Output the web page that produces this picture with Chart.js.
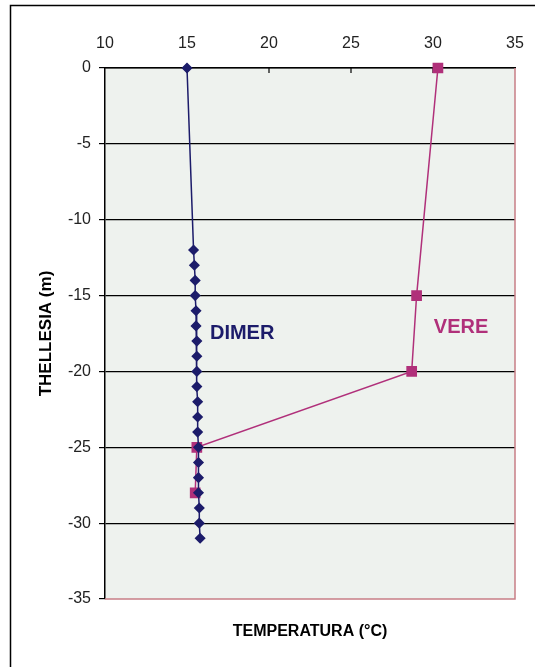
<!DOCTYPE html>
<html>
<head>
<meta charset="utf-8">
<script src="https://cdn.jsdelivr.net/npm/chart.js@4"></script>
<style>
  html, body { margin: 0; padding: 0; background: #fff; }
  #wrap { width: 535px; height: 667px; position: relative; }
</style>
</head>
<body>
<div id="wrap"><canvas id="chart"></canvas></div>
<script>
// thellesia (m) per cdo seri
const dimerDepth = [0, -12, -13, -14, -15, -16, -17, -18, -19, -20, -21, -22, -23, -24, -25, -26, -27, -28, -29, -30, -31]
const dimerTemp = [15.0, 15.4, 15.45, 15.5, 15.5, 15.55, 15.55, 15.6, 15.6, 15.6, 15.6, 15.65, 15.65, 15.65, 15.7, 15.7, 15.7, 15.7, 15.75, 15.75, 15.8]
const vereDepth = [0, -15, -20, -25, -28]
const vereTemp = [30.3, 29.0, 28.7, 15.6, 15.5]
const xTicks = [10, 15, 20, 25, 30, 35]
const yTicks = [0, -5, -10, -15, -20, -25, -30, -35]

const font = 'Liberation Sans, Arial, sans-serif'
const navy = '#1c1c6a'
const pink = '#b0307a'

function toPoints(xs, ys) {
  return xs.map((x, i) => ({ x: x, y: ys[i] }))
}

const frame = {
  id: 'frame',
  beforeDraw(chart) {
    const { ctx, chartArea: a } = chart
    ctx.save()
    ctx.fillStyle = '#eef2ee'
    ctx.fillRect(a.left, a.top, a.right - a.left, a.bottom - a.top)
    ctx.strokeStyle = '#000'
    ctx.lineWidth = 1.5
    ctx.strokeRect(10.5, 5.5, 700, 800)
    ctx.restore()
  },
  beforeDatasetsDraw(chart) {
    const { ctx, chartArea: a } = chart
    const xs = chart.scales.x
    ctx.save()
    ctx.strokeStyle = '#c87f86'
    ctx.lineWidth = 1.5
    ctx.beginPath()
    ctx.moveTo(a.left, a.bottom)
    ctx.lineTo(a.right, a.bottom)
    ctx.lineTo(a.right, a.top)
    ctx.stroke()
    // small tick marks below the top axis
    ctx.strokeStyle = '#000'
    ctx.lineWidth = 1.2
    xs.ticks.forEach((t) => {
      const px = xs.getPixelForValue(t.value)
      if (t.value > 10 && t.value < 35) {
        ctx.beginPath()
        ctx.moveTo(px, a.top)
        ctx.lineTo(px, a.top + 5)
        ctx.stroke()
      }
    })
    ctx.restore()
  },
  afterDatasetsDraw(chart) {
    const { ctx } = chart
    const xs = chart.scales.x
    const ys = chart.scales.y
    ctx.save()
    ctx.font = 'bold 20px ' + font
    ctx.textBaseline = 'middle'
    ctx.fillStyle = navy
    ctx.fillText('DIMER', xs.getPixelForValue(16.4), ys.getPixelForValue(-17.5))
    ctx.fillStyle = pink
    ctx.fillText('VERE', xs.getPixelForValue(30.05), ys.getPixelForValue(-17.1))
    ctx.restore()
  },
}

const ctx = document.getElementById('chart').getContext('2d')
const myChart = new Chart(ctx, {
  type: 'scatter',
  data: {
    datasets: [
      {
        label: 'DIMER',
        data: toPoints(dimerTemp, dimerDepth),
        showLine: true,
        clip: false,
        borderColor: navy,
        backgroundColor: navy,
        borderWidth: 1.5,
        pointStyle: 'rectRot',
        pointRadius: 4.5,
        pointHoverRadius: 4.5,
      },
      {
        label: 'VERE',
        data: toPoints(vereTemp, vereDepth),
        showLine: true,
        clip: false,
        borderColor: pink,
        backgroundColor: pink,
        borderWidth: 1.5,
        pointStyle: 'rect',
        pointRadius: 6.5,
        pointHoverRadius: 6.5,
      },
    ],
  },
  options: {
    responsive: true,
    maintainAspectRatio: false,
    animation: false,
    layout: { padding: { left: 0, right: 20, top: 0, bottom: 0 } },
    plugins: {
      legend: { display: false },
      tooltip: { enabled: false },
    },
    scales: {
      x: {
        type: 'linear',
        position: 'top',
        min: 10,
        max: 35,
        afterBuildTicks: (s) => { s.ticks = xTicks.map((v) => ({ value: v })) },
        afterFit: (s) => {
          s.height = 68
          s.paddingLeft = 0
          s.paddingRight = 0
        },
        ticks: { color: '#222', font: { family: font, size: 16 }, padding: 15 },
        grid: { drawOnChartArea: false, drawTicks: false },
        border: { color: '#000', width: 1.5 },
      },
      x2: {
        type: 'linear',
        position: 'bottom',
        min: 10,
        max: 35,
        afterFit: (s) => {
          s.height = 68
          s.paddingLeft = 0
          s.paddingRight = 0
        },
        ticks: { display: false },
        grid: { display: false },
        border: { display: false },
        title: {
          display: true,
          text: 'TEMPERATURA (°C)',
          color: '#000',
          font: { family: font, size: 16, weight: 'bold' },
          padding: { top: 0, bottom: 26 },
        },
      },
      y: {
        type: 'linear',
        min: -35,
        max: 0,
        afterBuildTicks: (s) => { s.ticks = yTicks.map((v) => ({ value: v })) },
        afterFit: (s) => { s.width = 105 },
        ticks: { color: '#222', font: { family: font, size: 16 }, padding: 8 },
        grid: {
          color: (c) => (c.tick && c.tick.value === -35 ? 'rgba(0,0,0,0)' : '#000'),
          tickColor: '#000',
          tickLength: 6,
          lineWidth: 1.2,
        },
        border: { color: '#000', width: 1.5 },
        title: {
          display: true,
          text: 'THELLESIA (m)',
          color: '#000',
          font: { family: font, size: 17, weight: 'bold' },
          padding: { top: 36, bottom: 0 },
        },
      },
    },
  },
  plugins: [frame],
})
</script>
</body>
</html>
